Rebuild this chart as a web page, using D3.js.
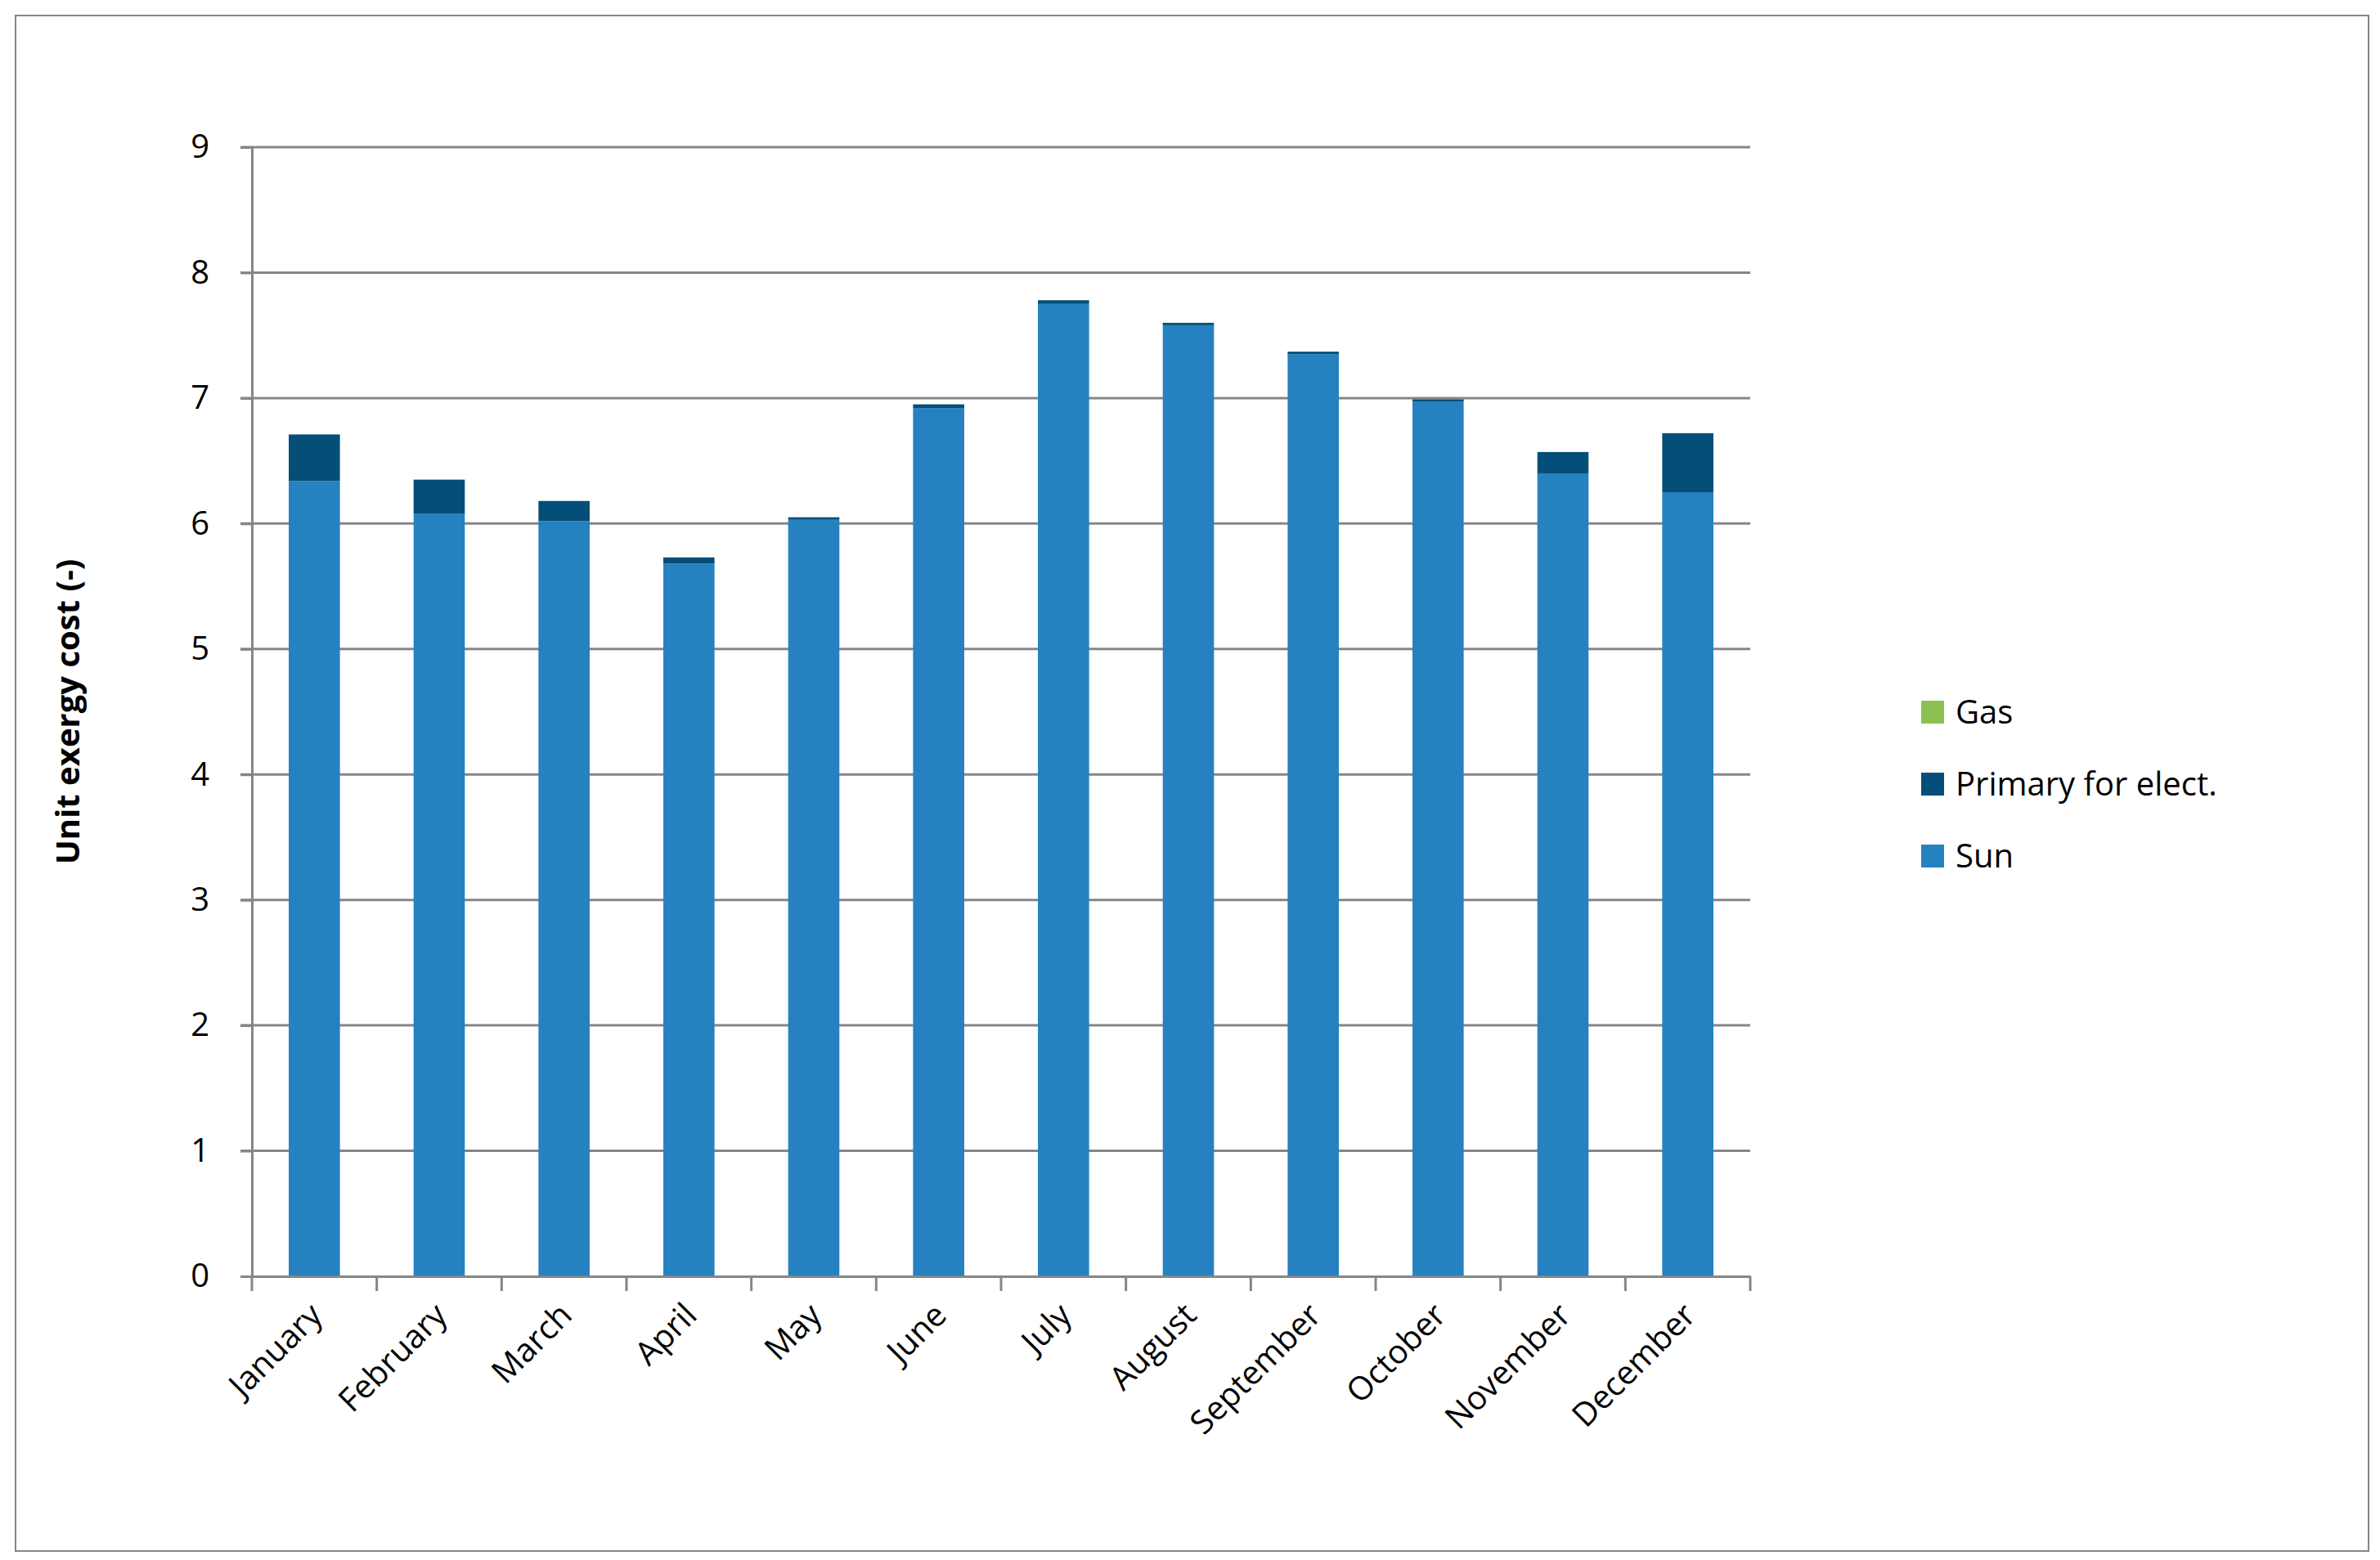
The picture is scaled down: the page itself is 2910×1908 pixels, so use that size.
<!DOCTYPE html>
<html><head><meta charset="utf-8">
<script src="https://cdn.jsdelivr.net/npm/d3@7"></script>
<style>body{margin:0;background:#fff}text{font-family:"Open Sans",sans-serif}</style>
</head><body><div id="chart"></div>
<script>
const months = ["January","February","March","April","May","June","July","August","September","October","November","December"];
const sun = [6.34, 6.08, 6.02, 5.68, 6.03, 6.92, 7.75, 7.58, 7.35, 6.97, 6.40, 6.25];
const primary = [0.37, 0.27, 0.16, 0.05, 0.02, 0.03, 0.03, 0.02, 0.02, 0.02, 0.17, 0.47];
const gas = [0, 0, 0, 0, 0, 0, 0, 0, 0, 0, 0, 0];
const seriesNames = ["Sun", "Primary for elect.", "Gas"];
const colors = {"Sun": "#2581c0", "Primary for elect.": "#044e78", "Gas": "#8cc152"};
const yTicks = [0,1,2,3,4,5,6,7,8,9];

const W = 2910, H = 1908;
const plotLeft = 308, plotRight = 2140, plotTop = 180, plotBottom = 1561;

const svg = d3.select("#chart").append("svg").attr("width", W).attr("height", H);
svg.append("rect").attr("x", 19).attr("y", 19).attr("width", 2877).attr("height", 1878)
  .attr("fill", "none").attr("stroke", "#868686").attr("stroke-width", 2);

const x = d3.scaleBand().domain(months).range([plotLeft, plotRight]).paddingInner(0.59).paddingOuter(0.295);
const y = d3.scaleLinear().domain([0, 9]).range([plotBottom, plotTop]);

// gridlines
svg.append("g").selectAll("line").data(yTicks.slice(1)).join("line")
  .attr("x1", plotLeft - 14).attr("x2", plotRight).attr("y1", d => y(d)).attr("y2", d => y(d))
  .attr("stroke", "#868686").attr("stroke-width", 3);

const data = months.map((m, i) => ({month: m, "Sun": sun[i], "Primary for elect.": primary[i], "Gas": gas[i]}));
const stacked = d3.stack().keys(seriesNames)(data);
svg.append("g").selectAll("g").data(stacked).join("g").attr("fill", d => colors[d.key])
  .selectAll("rect").data(d => d).join("rect")
  .attr("x", d => x(d.data.month)).attr("width", x.bandwidth())
  .attr("y", d => y(d[1])).attr("height", d => y(d[0]) - y(d[1]));

// axes
const yAxis = svg.append("g").attr("transform", `translate(${plotLeft},0)`)
  .call(d3.axisLeft(y).tickValues(yTicks).tickSize(14).tickPadding(38));
const xAxis = svg.append("g").attr("transform", `translate(0,${plotBottom})`)
  .call(d3.axisBottom(x).tickSize(0).tickFormat(""));
[yAxis, xAxis].forEach(a => {
  a.select(".domain").attr("stroke", "#868686").attr("stroke-width", 3);
  a.selectAll("line").attr("stroke", "#868686").attr("stroke-width", 3);
});
yAxis.selectAll("text").attr("font-size", 40).attr("fill", "#000").attr("font-family", "Open Sans");

// category separators
const step = x.step();
svg.append("g").selectAll("line").data(d3.range(13)).join("line")
  .attr("x1", i => plotLeft + i * step).attr("x2", i => plotLeft + i * step)
  .attr("y1", plotBottom).attr("y2", plotBottom + 18)
  .attr("stroke", "#868686").attr("stroke-width", 3);

svg.append("g").selectAll("text").data(months).join("text")
  .attr("transform", d => `translate(${x(d) + x.bandwidth() / 2 + 12},${plotBottom + 50}) rotate(-45)`)
  .attr("text-anchor", "end").attr("font-size", 40).text(d => d);

svg.append("text")
  .attr("transform", `translate(97,${(plotTop + plotBottom) / 2}) rotate(-90)`)
  .attr("text-anchor", "middle").attr("font-size", 40).attr("font-weight", "bold")
  .text("Unit exergy cost (-)");

// legend
const legendOrder = ["Gas", "Primary for elect.", "Sun"];
const lg = svg.append("g").selectAll("g").data(legendOrder).join("g")
  .attr("transform", (d, i) => `translate(2349,${871 + i * 88})`);
lg.append("rect").attr("x", 0).attr("y", -14).attr("width", 28).attr("height", 28).attr("fill", d => colors[d]);
lg.append("text").attr("x", 42).attr("y", 14).attr("font-size", 40).text(d => d);
</script></body></html>
